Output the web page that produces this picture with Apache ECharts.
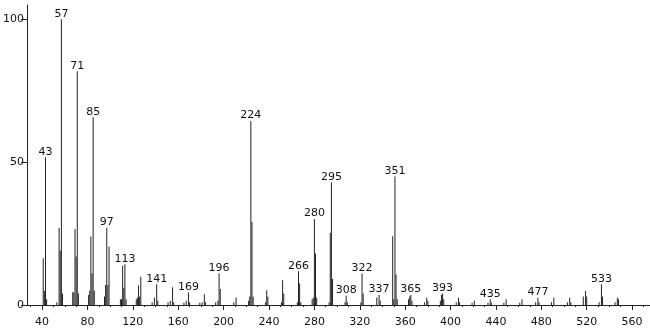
<!DOCTYPE html>
<html><head><meta charset="utf-8">
<script src="https://cdn.jsdelivr.net/npm/echarts@6/dist/echarts.min.js"></script>
<style>html,body{margin:0;padding:0;background:#fff}#c{width:650px;height:328px}</style>
</head><body><div id="c"></div>
<script>
const mz = [41,42,43,44,53,55,56,57,58,67,68,69,70,71,72,81,82,83,84,85,86,95,96,97,98,99,109,110,111,112,113,114,123,124,125,126,127,137,139,141,142,151,153,155,156,165,167,169,170,179,181,183,184,193,195,196,197,209,211,222,223,224,225,226,237,238,239,251,252,253,265,266,267,268,278,279,280,281,282,293,294,295,296,307,308,309,321,322,323,335,337,338,349,350,351,352,353,363,364,365,366,377,379,380,391,392,393,394,405,407,408,419,421,433,435,436,447,449,461,463,475,477,478,489,491,503,505,506,517,519,520,531,533,534,545,547,548];
const intensity = [16.4,5,51.7,2,1,27,19,100,4,4.5,4.5,26.6,17,81.8,4,3.5,5,24,11,65.7,5,3,7,27,7,20.4,2,2,13.7,6,14.3,2,2,2.5,6.9,3,9.9,1,2.5,7.3,1.5,1,1.5,6.2,1,0.8,1.5,4.4,1,0.8,1,3.8,1,1,1.5,11.1,5.6,1,2.6,1.5,3,64.4,29.1,3,1,5.2,3,1,8.7,4,1,11.8,7.5,1,2,2.5,30.1,18,2.5,1,25.3,43,9.1,1,3.2,1,1,11,4,2.6,3.5,1.5,24.1,2,45,10.7,2,2,3,3.5,1.5,1,2.5,1.5,1.5,3.5,4,2,1,2.5,1,0.8,1.5,0.8,2,0.8,0.8,2,0.8,2,1,2.5,1,1,2.5,1,2.5,1,3,4.9,3,1,7.3,3,1,2.5,2];
const labeledPeaks = [43,57,71,85,97,113,141,169,196,224,266,280,295,308,322,337,351,365,393,435,477,533];
const xTicks = [40,80,120,160,200,240,280,320,360,400,440,480,520,560];
const yTicks = [0,50,100];

const minorTicks = [];
for (let v = 30; v <= 570; v += 10) if (v % 40 !== 0) minorTicks.push(v);

const FONT = 'DejaVu Sans';
const chart = echarts.init(document.getElementById('c'), null, {renderer:'canvas'});
chart.setOption({
  animation:false,
  grid:{left:27,right:0,top:5,bottom:23},
  xAxis:[{
    type:'value',min:26.7,max:575.8,
    axisLine:{lineStyle:{color:'#222',width:1}},
    axisTick:{show:true,customValues:xTicks,length:5,lineStyle:{color:'#222'}},
    axisLabel:{customValues:xTicks,color:'#111',fontFamily:FONT,fontSize:11,margin:12},
    splitLine:{show:false}
  },{
    type:'value',min:26.7,max:575.8,position:'bottom',
    axisLine:{show:false},
    axisTick:{show:true,customValues:minorTicks,length:2,lineStyle:{color:'#222'}},
    axisLabel:{show:false},splitLine:{show:false}
  }],
  yAxis:{
    type:'value',min:0,max:105,
    axisLine:{show:true,lineStyle:{color:'#222',width:1}},
    axisTick:{show:true,customValues:yTicks,length:6,lineStyle:{color:'#222'}},
    axisLabel:{customValues:yTicks,color:'#111',fontFamily:FONT,fontSize:11,margin:3},
    splitLine:{show:false}
  },
  series:[{
    type:'bar',
    xAxisIndex:0,
    barWidth:1,
    itemStyle:{color:'#222'},
    data: mz.map((m,i)=>[m,intensity[i]]),
    label:{
      show:true,position:'top',distance:0,
      color:'#111',fontFamily:FONT,fontSize:11,
      formatter:p=> labeledPeaks.includes(p.value[0]) ? String(p.value[0]) : ''
    }
  }]
});
</script></body></html>
